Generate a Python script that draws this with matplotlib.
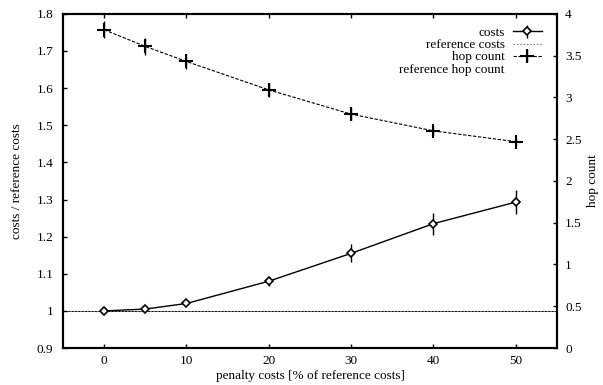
import numpy as np
import matplotlib
matplotlib.use('Agg')
import matplotlib.pyplot as plt

plt.rcParams['font.family'] = ['Liberation Serif', 'DejaVu Serif']
plt.rcParams['font.size'] = 9.5

# data
penalty = [0, 5, 10, 20, 30, 40, 50]
costs = [1.0, 1.005, 1.02, 1.08, 1.155, 1.235, 1.293]
costs_err = [0.003, 0.005, 0.007, 0.012, 0.024, 0.03, 0.032]
hops = [3.81, 3.61, 3.43, 3.09, 2.80, 2.60, 2.47]
hops_err = [0.1, 0.1, 0.09, 0.08, 0.07, 0.06, 0.05]
ref_cost = 1.0
ref_hops = (1.0 - 0.9) / 0.9 * 4  # sits on the same height as reference costs

fig = plt.figure(figsize=(6.03, 3.85), dpi=100)
ax = fig.add_axes([0.1045, 0.096, 0.819, 0.868])
ax2 = ax.twinx()

# reference lines
ax.axhline(ref_cost, color='black', lw=0.7, zorder=1)
l_refc, = ax.plot([-5, 55], [ref_cost, ref_cost], color='gray', lw=0.8,
                  linestyle=(0, (1.5, 1.5)), zorder=1)
l_refh, = ax2.plot([-5, 55], [ref_hops, ref_hops], color='white', lw=0.1, alpha=0.0)

# costs: solid line with open diamonds
l_c = ax.errorbar(penalty, costs, yerr=costs_err, color='black', lw=1.0,
                  marker='D', markersize=4.5, mfc='white', mec='black', mew=1.2,
                  ecolor='black', elinewidth=1.0, capsize=0)

# hop count on right axis: dashed line with plus markers
l_h = ax2.errorbar(penalty, hops, yerr=hops_err, color='black', lw=0.8,
                   linestyle=(0, (3, 1.5)), marker='+', markersize=10, mew=1.5,
                   ecolor='black', elinewidth=1.0, capsize=0)

ax.set_xlim(-5, 55)
ax.set_ylim(0.9, 1.8)
ax2.set_ylim(0, 4)
ax.set_xticks([0, 10, 20, 30, 40, 50])
ax.set_yticks(np.round(np.arange(0.9, 1.81, 0.1), 1))
ax.set_yticklabels(['0.9', '1', '1.1', '1.2', '1.3', '1.4', '1.5', '1.6', '1.7', '1.8'])
ax2.set_yticks([0, 0.5, 1, 1.5, 2, 2.5, 3, 3.5, 4])
ax2.set_yticklabels(['0', '0.5', '1', '1.5', '2', '2.5', '3', '3.5', '4'])

ax.tick_params(axis='x', direction='in', top=True, length=3, width=1, pad=5)
ax.tick_params(axis='y', direction='in', length=3, width=1, pad=7)
ax2.tick_params(axis='y', direction='in', length=3, width=1, pad=6)
for a in (ax, ax2):
    for s in a.spines.values():
        s.set_linewidth(1.5)

ax.set_xlabel('penalty costs [% of reference costs]', labelpad=2)
ax.set_ylabel('costs / reference costs', labelpad=10)
ax2.set_ylabel('hop count', rotation=90, labelpad=4)

handles = [l_c, l_refc, l_h, l_refh]
labels = ['costs', 'reference costs', 'hop count', 'reference hop count']
ax2.legend(handles, labels, loc='upper right', bbox_to_anchor=(0.985, 0.985),
           frameon=False, markerfirst=False, handlelength=2.2,
           labelspacing=0.0, borderaxespad=0.2, handletextpad=0.6)

fig.savefig('out.png', dpi=100)
